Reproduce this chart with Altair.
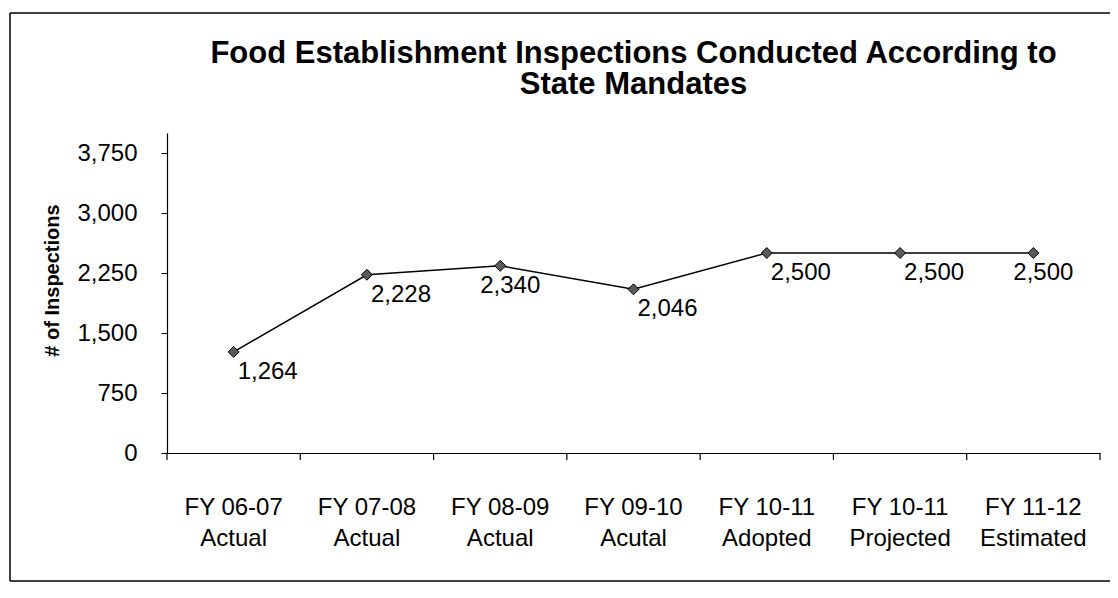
import altair as alt
import pandas as pd

fiscal_years = ["FY 06-07", "FY 07-08", "FY 08-09", "FY 09-10", "FY 10-11", "FY 10-11", "FY 11-12"]
statuses = ["Actual", "Actual", "Actual", "Acutal", "Adopted", "Projected", "Estimated"]
inspections = [1264, 2228, 2340, 2046, 2500, 2500, 2500]
y_ticks = [0, 750, 1500, 2250, 3000, 3750]
title_lines = ["Food Establishment Inspections Conducted According to", "State Mandates"]

categories = [f"{a}|{b}" for a, b in zip(fiscal_years, statuses)]
df = pd.DataFrame({"cat": categories, "value": inspections, "idx": list(range(len(categories)))})

FONT = "Liberation Sans"
W, H = 933, 320

x_enc = alt.X("cat:N", sort=categories, title=None,
              scale=alt.Scale(paddingInner=0, paddingOuter=0),
              axis=alt.Axis(labelExpr="split(datum.label, '|')", labelAngle=0, ticks=False,
                            tickSize=0, labelPadding=42, labelFontSize=24, labelLineHeight=31,
                            labelFont=FONT, labelColor="black", domainColor="black",
                            domainWidth=1.2, grid=False, labelBaseline="top"))
y_enc = alt.Y("value:Q", scale=alt.Scale(domain=[0, 4000], nice=False), title="# of Inspections",
              axis=alt.Axis(values=y_ticks, format=",d", grid=False, tickSize=6, tickColor="black",
                            domainColor="black", domainWidth=1.2, labelFontSize=24, labelFont=FONT,
                            labelColor="black", labelPadding=24, titleFont=FONT, titleFontSize=20,
                            titleFontWeight="bold", titleColor="black", titleAngle=270,
                            titleX=-115, titleY=147, titleAlign="center", titleBaseline="middle"))

base = alt.Chart(df)
one = base.transform_filter("datum.idx == 0")

line = base.mark_line(color="black", strokeWidth=1.5).encode(x=x_enc, y=y_enc)
pts = base.mark_point(shape="diamond", size=120, filled=True, fill="#5a5a5a", stroke="black",
                      strokeWidth=1, opacity=1).encode(x=x_enc, y="value:Q")

lbl_a = base.transform_filter("datum.idx != 2 && datum.idx != 6").mark_text(
    align="left", baseline="top", dx=4, dy=8, font=FONT, fontSize=24, color="black"
).encode(x=alt.X("cat:N", sort=categories), y="value:Q", text=alt.Text("value:Q", format=","))
lbl_b = base.transform_filter("datum.idx == 2 || datum.idx == 6").mark_text(
    align="left", baseline="top", dx=-20, dy=8, font=FONT, fontSize=24, color="black"
).encode(x=alt.X("cat:N", sort=categories), y="value:Q", text=alt.Text("value:Q", format=","))

xticks = base.mark_rule(color="black", strokeWidth=1.2).encode(
    x=alt.X("cat:N", sort=categories, bandPosition=0), y=alt.value(H), y2=alt.value(H + 7))
xtick_end = base.transform_filter("datum.idx == 6").mark_rule(color="black", strokeWidth=1.2).encode(
    x=alt.X("cat:N", sort=categories, bandPosition=1), y=alt.value(H), y2=alt.value(H + 7))

title = one.mark_text(font=FONT, fontSize=31, fontWeight="bold", align="center",
                      baseline="alphabetic", lineHeight=31, color="black").encode(
    x=alt.value(W / 2), y=alt.value(-70), text=alt.value(title_lines))

border_top = one.mark_rule(color="black", strokeWidth=1.5).encode(
    x=alt.value(-157), x2=alt.value(943), y=alt.value(-120))
border_left = one.mark_rule(color="black", strokeWidth=1.5).encode(
    x=alt.value(-157), y=alt.value(-120), y2=alt.value(448))
border_bottom = one.mark_rule(color="black", strokeWidth=1.5).encode(
    x=alt.value(-157), x2=alt.value(943), y=alt.value(448))

chart = alt.layer(line, pts, lbl_a, lbl_b, xticks, xtick_end, title,
                  border_top, border_left, border_bottom).properties(
    width=W, height=H,
    padding={"left": 159, "top": 125, "right": 10, "bottom": 129},
    autosize=alt.AutoSizeParams(type="none"),
    background="white",
).configure_view(stroke=None)

chart.save("out.html", embed_options={"renderer": "svg", "actions": False})
